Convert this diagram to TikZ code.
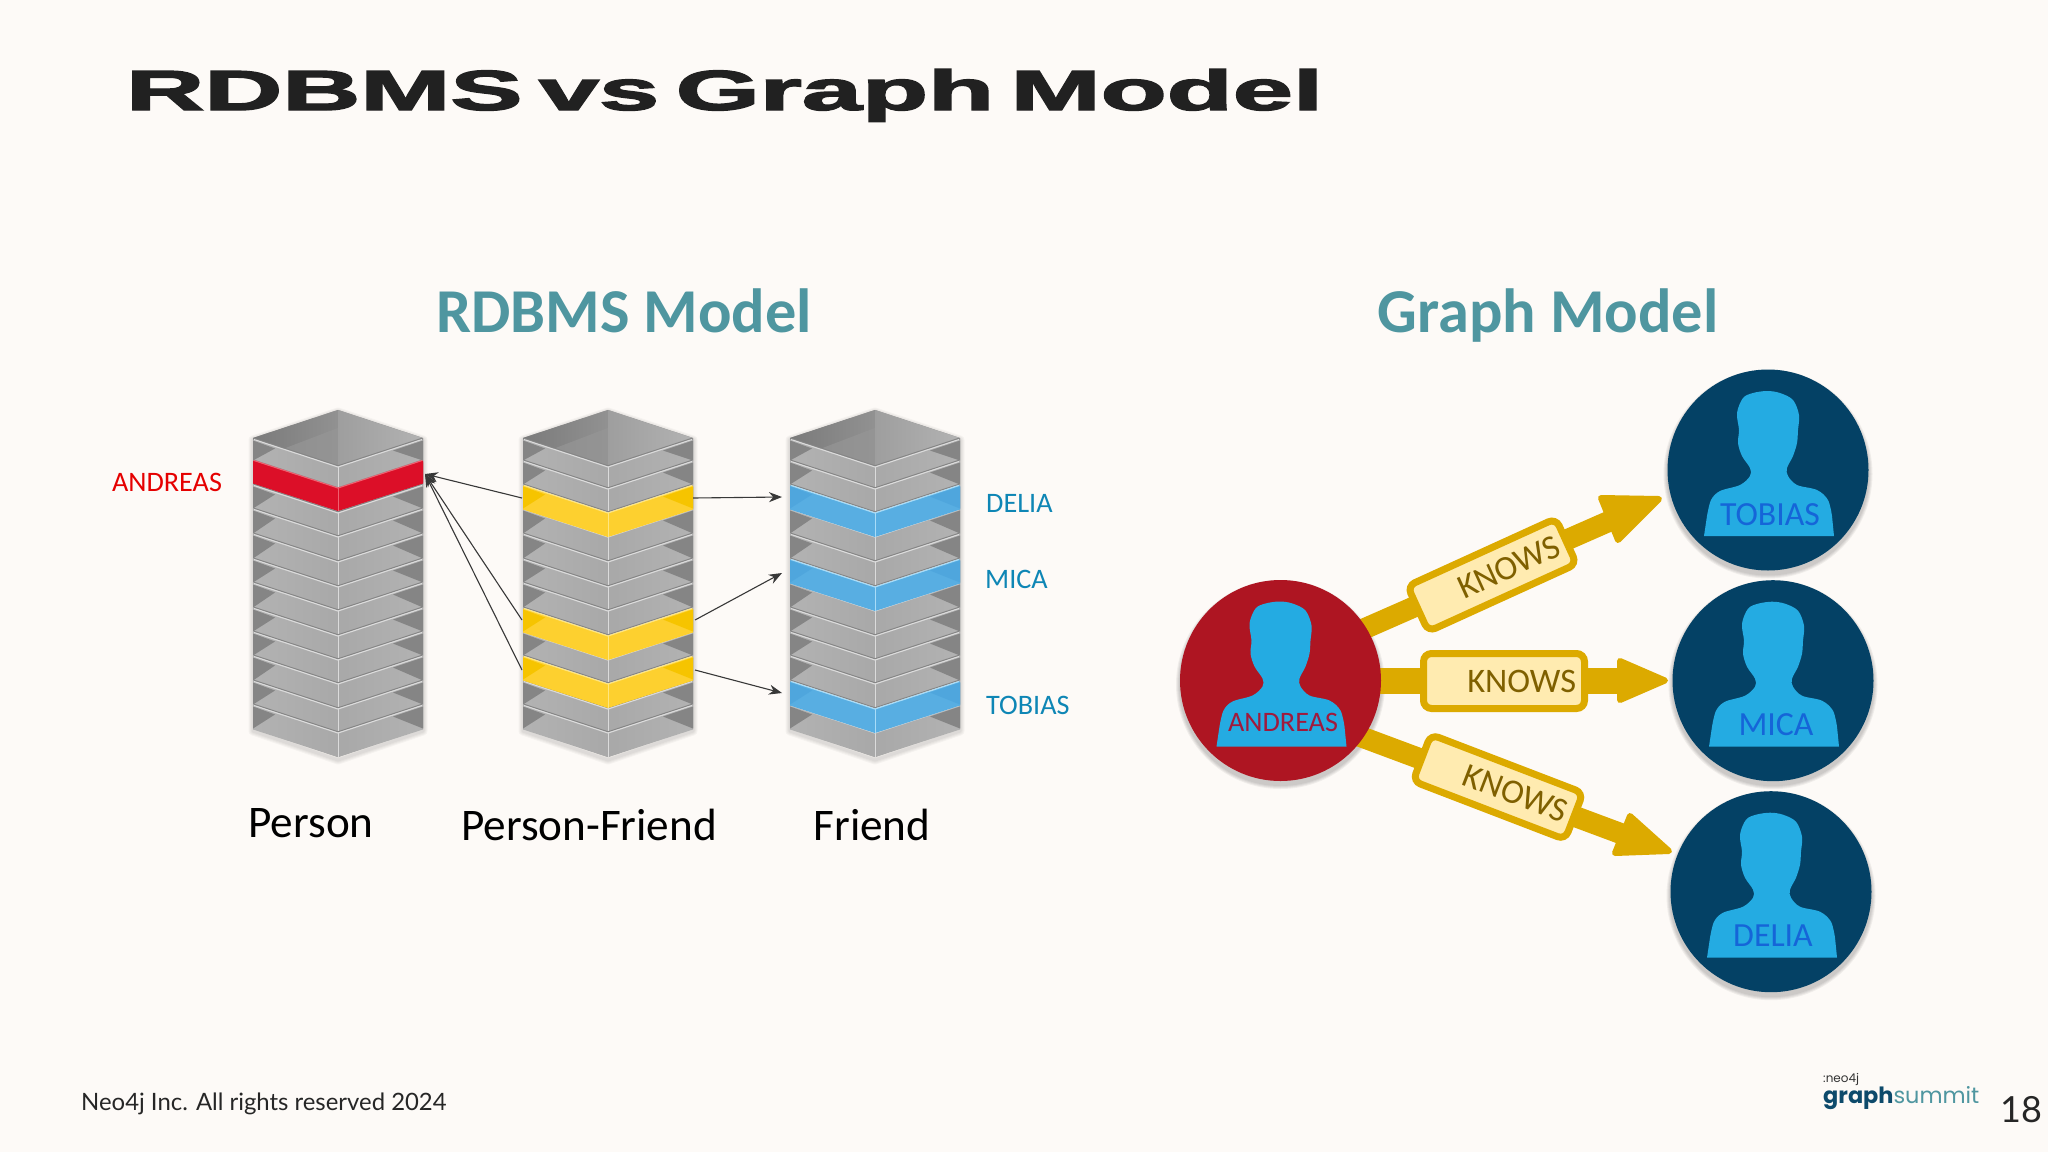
\documentclass[tikz,border=0pt]{standalone}
\usepackage{graphicx}
\usepackage{fontspec}
\setmainfont{Carlito}
\newfontfamily\titlefont{Liberation Sans}[WordSpace=0.55,BoldFeatures={FakeBold=2.2}]
\newfontfamily\footfont{Lato}
\newfontfamily\logofont{Poppins}
\usetikzlibrary{arrows.meta,backgrounds}
\definecolor{bgc}{HTML}{FDFAF7}
\definecolor{teal1}{HTML}{4F96A0}
\definecolor{gold}{HTML}{DCAA00}
\definecolor{paleg}{HTML}{FFEBB0}
\definecolor{knowtxt}{HTML}{7F6000}
\definecolor{navy}{HTML}{044165}
\definecolor{crim}{HTML}{AE1522}
\definecolor{pers}{HTML}{24ABE2}
\definecolor{lblue}{HTML}{0E86B5}
\definecolor{nameblue}{HTML}{1565D8}
\definecolor{namered}{HTML}{A01A3C}
\definecolor{logonavy}{HTML}{0D4A6B}
\definecolor{rowred}{HTML}{DC0F28}
\definecolor{rowredl}{HTML}{F06070}
\definecolor{rowyel}{HTML}{FDD02F}
\definecolor{rowyeld}{HTML}{F6C400}
\definecolor{rowyell}{HTML}{FFE680}
\definecolor{rowblu}{HTML}{58AEE2}
\definecolor{rowblud}{HTML}{4FA6DD}
\definecolor{rowblul}{HTML}{A8DCF8}
\tikzset{
  x=1pt,y=-1pt,
  basetxt/.style={anchor=base,inner sep=0pt},
  link/.style={draw=black!78,line width=1.1pt,-{Stealth[length=13pt,width=10pt]}},
  shaft/.style={draw=gold,line cap=butt},
  headp/.style={fill=gold,draw=gold,line width=6pt,line join=round},
  knowsbox/.style={draw=gold,fill=paleg,line width=7pt,rounded corners=8pt,inner xsep=8.5pt,inner ysep=0pt,align=right,text=knowtxt,font=\fontsize{34.4}{36}\selectfont},
  person/.style={circle,minimum size=201pt,inner sep=0pt,fill=#1},
  pname/.style={inner sep=0pt,font=\fontsize{33.8}{36}\selectfont,text=nameblue},
  sidelabel/.style={inner sep=0pt,anchor=west,font=\fontsize{28.2}{30}\selectfont,text=lblue},
  collabel/.style={basetxt,font=\fontsize{45.2}{48}\selectfont,text=black},
  coltitle/.style={basetxt,font=\bfseries\fontsize{62.4}{66}\selectfont,text=teal1}
}
% one slab of a tower: centre x, top and bottom of the front edge, colours
\newcommand\slabface[6]{%
  \pgfmathsetmacro\Ls{#1-85}\pgfmathsetmacro\Rs{#1+85}%
  \pgfmathsetmacro\st{#2-27.5}\pgfmathsetmacro\sb{#3-27.5}%
  \path[left color=#4,right color=#5] (\Ls,\st)--(#1,#2)--(#1,#3)--(\Ls,\sb)--cycle;
  \path[left color=#5,right color=#4] (\Rs,\st)--(#1,#2)--(#1,#3)--(\Rs,\sb)--cycle;
  \fill[#6] (\Ls,\st+1)--(\Ls+22,\st+9)--(\Ls,\sb-1)--cycle;
  \fill[#6] (\Rs,\st+1)--(\Rs-30,\st+11)--(\Rs,\sb-1)--cycle;
}
\newcommand\slabline[4]{%
  \pgfmathsetmacro\Ls{#1-85}\pgfmathsetmacro\Rs{#1+85}%
  \pgfmathsetmacro\st{#2-27.5}%
  \draw[#4,line width=1.1pt,line join=round] (\Ls+1,\st)--(#1,#2)--(\Rs-1,\st);
  \draw[#4,line width=1pt] (#1,#2)--(#1,#3);
}
\newcommand\towerbase[1]{%
  \foreach \w in {9,7,5,3}{
    \draw[black,opacity=.03,line width=\w pt,line join=round]
      (#1-85,440)--(#1,412)--(#1+85,440)--(#1+85,731)--(#1,760)--(#1-85,731)--cycle;}
  \fill[black!47] (#1-85,438)--(#1,410)--(#1+85,438)--(#1+85,728)--(#1,757)--(#1-85,728)--cycle;
  \path[left color=black!52,right color=black!43] (#1-85,438)--(#1,410)--(#1,467)--cycle;
  \fill[black!41,opacity=.7] (#1-55,449)--(#1,428)--(#1,467)--cycle;
  \path[left color=black!38,right color=black!30] (#1+85,438)--(#1,410)--(#1,467)--cycle;
  \foreach \c/\d in {467/489,489/513,513/537,537/562,562/587,587/611,611/636,636/660,660/684,684/709,709/733,733/757}{
    \slabface{#1}{\c}{\d}{black!30}{black!34}{black!48}
  }
  \foreach \c/\d in {467/489,489/513,513/537,537/562,562/587,587/611,611/636,636/660,660/684,684/709,709/733,733/757}{
    \slabline{#1}{\c-1.2}{\c-1.2}{black!48}
    \slabline{#1}{\c}{\d}{black!14}
  }
}
\newcommand\silhouette[2]{%
  \fill[pers,shift={(#1,#2)}] (-64,66) -- plot[smooth,tension=.55] coordinates {(-61,46) (-57,30) (-48,21) (-28,15) (-18,6) (-18,-2) (-26,-14) (-30,-27) (-29,-40) (-31,-57) (-25,-72) (-15,-77) (-1,-79) (12,-77) (25,-70) (31,-55) (30,-40) (29,-27) (25,-14) (19,-2) (20,6) (29,15) (49,20) (60,30) (64,46)} -- (66,66) -- cycle;
}
\newcommand\softshadow[2]{%
  \foreach \w in {4,3,2,1}{\fill[black,opacity=.05] (#1,#2+4) circle (100.5+\w);}
}
\begin{document}
\begin{tikzpicture}
\useasboundingbox (0,0) rectangle (2048,1152);

% --- title, footer, logo
\node[anchor=base west,inner sep=0pt,text=black!87] (title) at (126,110)
  {\resizebox{1196pt}{41pt}{\titlefont\bfseries RDBMS vs Graph Model}};
\node[coltitle] (t1) at (624,332.5) {RDBMS Model};
\node[coltitle] (t2) at (1548,332.5) {Graph Model};
\node[anchor=base west,inner sep=0pt,text=black!85,font=\footfont\fontsize{23.9}{26}\selectfont] (foot) at (81,1110) {Neo4j Inc. All rights reserved 2024};
\node[anchor=base west,inner sep=0pt,text=black!85,font=\footfont\fontsize{36}{40}\selectfont] (pageno) at (2000,1122) {18};
\node[anchor=base west,inner sep=0pt,text=black!80,font=\logofont\fontsize{12}{14}\selectfont] (neo) at (1823,1082) {:neo4j};
\node[anchor=base west,inner sep=0pt,font=\logofont\fontsize{22.4}{26}\selectfont] (gs) at (1823,1103) {\textcolor{logonavy}{\textbf{graph}}\textcolor{teal1}{summit}};

% --- tables
\towerbase{338}
\towerbase{608}
\towerbase{875}
% red row
\slabface{338}{488}{511}{rowred}{rowred}{rowred}
\slabline{338}{488}{511}{rowredl}
% yellow rows
\foreach \c/\d in {513/537,636/660,684/708}{
  \slabface{608}{\c}{\d}{rowyel}{rowyel}{rowyeld}
  \slabline{608}{\c}{\d}{rowyell}
}
% blue rows
\foreach \c/\d in {513/537,587/611,709/733}{
  \slabface{875}{\c}{\d}{rowblu}{rowblu}{rowblud}
  \slabline{875}{\c}{\d}{rowblul}
}

% row connectors
\coordinate (rA) at (425,474);
\coordinate (y1l) at (522,498);
\coordinate (y2l) at (522,620);
\coordinate (y3l) at (522,670);
\coordinate (y1r) at (693,498);
\coordinate (y2r) at (695,620);
\coordinate (y3r) at (695,670);
\coordinate (b1) at (782,497);
\coordinate (b2) at (782,573);
\coordinate (b3) at (782,693);
\draw[link] (y1l) -- (rA);
\draw[link] (y2l) -- (rA);
\draw[link] (y3l) -- (rA);
\draw[link] (y1r) -- (b1);
\draw[link] (y2r) -- (b2);
\draw[link] (y3r) -- (b3);

% --- labels of the tables
\node[inner sep=0pt,font=\fontsize{28.2}{30}\selectfont,text=red!90!black] (lA) at (167,482) {ANDREAS};
\node[sidelabel] (lD) at (986,503) {DELIA};
\node[sidelabel] (lM) at (985,579) {MICA};
\node[sidelabel] (lT) at (986,705) {TOBIAS};
\node[collabel] (cP) at (311,837) {Person};
\node[collabel] (cPF) at (589,840) {Person-Friend};
\node[collabel] (cF) at (872,840) {Friend};

% --- graph model
\node[person=crim] (andreas) at (1280.5,680.5) {};
\node[person=navy] (tobias) at (1768,470) {};
\node[person=navy] (mica) at (1773,680.7) {};
\node[person=navy] (delia) at (1771,891.7) {};
\silhouette{1280.5}{680.5}
\silhouette{1768}{470}
\silhouette{1773}{680.7}
\silhouette{1771}{891.7}
\node[pname,font=\fontsize{28.2}{30}\selectfont,text=namered] (nA) at (1283,722) {ANDREAS};
\node[pname] (nT) at (1770,515) {TOBIAS};
\node[pname] (nM) at (1776,725) {MICA};
\node[pname] (nD) at (1773,936) {DELIA};

\begin{scope}[on background layer]
  \fill[bgc] (0,0) rectangle (2048,1152);
  \softshadow{1280.5}{680.5}
  \softshadow{1768}{470}
  \softshadow{1773}{680.7}
  \softshadow{1771}{891.7}
  \coordinate (u0) at (1300,657);
  \coordinate (m0) at (1300,681);
  \coordinate (l0) at (1300,714);
  \coordinate (uh) at (1612,520);
  \coordinate (mh) at (1622,681);
  \coordinate (lh) at (1622,834);
  \draw[shaft,line width=21pt] (u0) -- (uh);
  \draw[shaft,line width=26pt] (m0) -- (mh);
  \draw[shaft,line width=21pt] (l0) -- (lh);
  \path[headp] (1601,498) -- (1659,499) -- (1618,540) -- cycle;
  \path[headp] (1620,661) -- (1665,680.5) -- (1620,700) -- cycle;
  \path[headp] (1630,816) -- (1669,851) -- (1615,853) -- cycle;
\end{scope}
\node[knowsbox,rotate=24.5,text width=146pt,minimum height=50pt] (ku) at (1492,575) {KNOWS};
\node[knowsbox,text width=144pt,minimum height=55pt] (km) at (1504,681) {KNOWS};
\node[knowsbox,rotate=-21,text width=146pt,minimum height=50pt] (kl) at (1498,787) {KNOWS};
\end{tikzpicture}
\end{document}
